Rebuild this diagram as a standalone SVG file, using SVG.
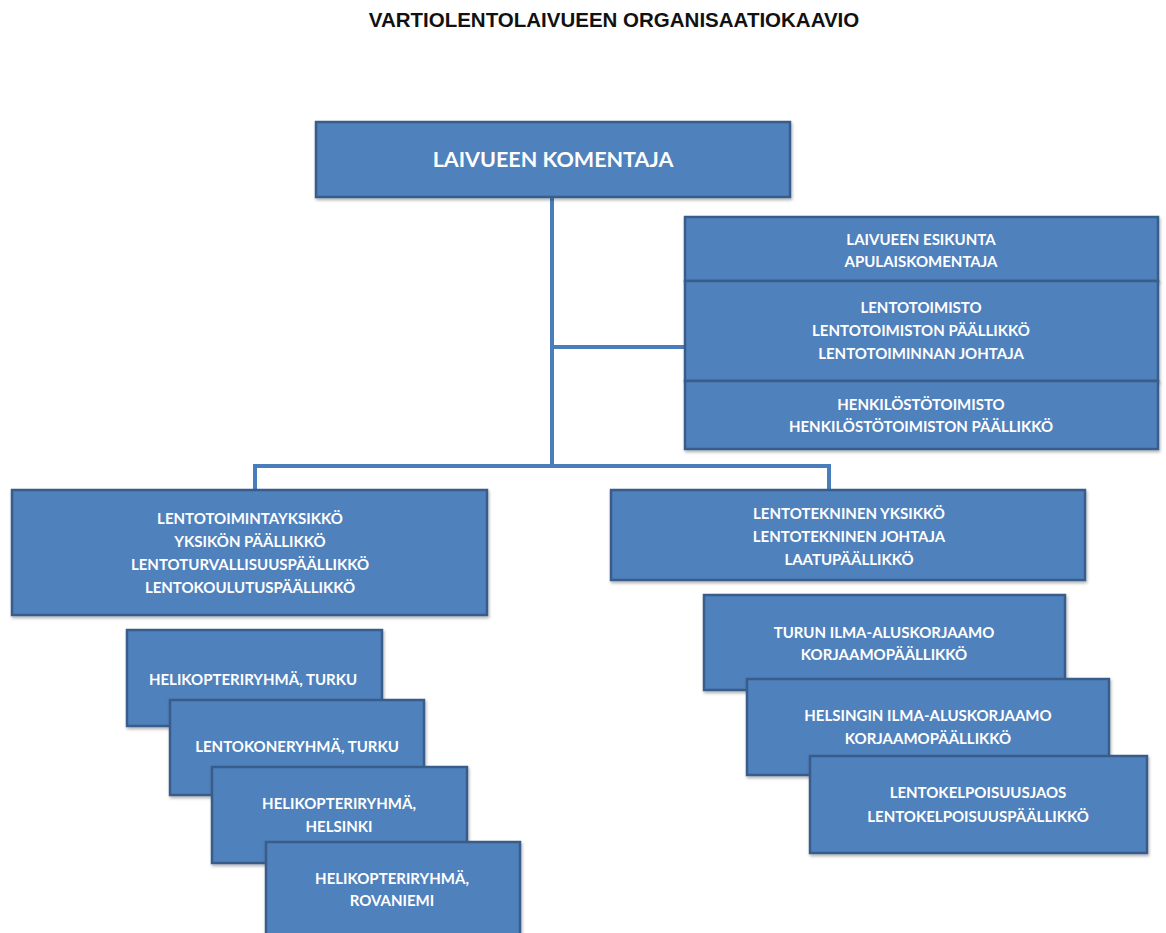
<svg xmlns="http://www.w3.org/2000/svg" width="1166" height="933" viewBox="0 0 1166 933">
  <style>
    .box { fill: #4F81BD; stroke: #385D8A; stroke-width: 2.5; filter: url(#shadow); }
    .lbl { fill: #FFFFFF; font-family: Lato, "Open Sans", "Liberation Sans", sans-serif; font-weight: bold; font-size: 15px; text-anchor: middle; }
    .big { font-size: 21.5px; }
    .title { fill: #111111; font-family: "Liberation Sans", Arial, sans-serif; font-weight: bold; font-size: 20.5px; text-anchor: middle; }
    .wire { fill: none; stroke: #4A7EBB; stroke-width: 4; }
  </style>
  <defs>
    <filter id="shadow" x="-5%" y="-5%" width="110%" height="115%">
      <feDropShadow dx="1" dy="2" stdDeviation="1.5" flood-color="#000000" flood-opacity="0.3"/>
    </filter>
  </defs>
  <rect width="1166" height="933" fill="#FFFFFF"/>

  <text class="title" x="614" y="27">VARTIOLENTOLAIVUEEN ORGANISAATIOKAAVIO</text>

  <!-- connectors -->
  <g id="connectors">
    <path class="wire" d="M552 197 V466"/>
    <path class="wire" d="M552 347 H686"/>
    <path class="wire" d="M255 491 V466 H829 V491"/>
  </g>

  <g id="komentaja">
    <rect class="box" x="316" y="122" width="474" height="75"/>
    <text class="lbl big" x="553" y="167">LAIVUEEN KOMENTAJA</text>
  </g>

  <g id="esikunta">
    <rect class="box" x="685" y="217" width="473" height="64"/>
    <text class="lbl" x="921" y="245">LAIVUEEN ESIKUNTA</text>
    <text class="lbl" x="921" y="267">APULAISKOMENTAJA</text>
  </g>
  <g id="lentotoimisto">
    <rect class="box" x="685" y="281" width="473" height="100"/>
    <text class="lbl" x="921" y="313">LENTOTOIMISTO</text>
    <text class="lbl" x="921" y="336">LENTOTOIMISTON PÄÄLLIKKÖ</text>
    <text class="lbl" x="921" y="359">LENTOTOIMINNAN JOHTAJA</text>
  </g>
  <g id="henkilostotoimisto">
    <rect class="box" x="685" y="381" width="473" height="68"/>
    <text class="lbl" x="921" y="410">HENKILÖSTÖTOIMISTO</text>
    <text class="lbl" x="921" y="432">HENKILÖSTÖTOIMISTON PÄÄLLIKKÖ</text>
  </g>

  <g id="lentotoimintayksikko">
    <rect class="box" x="12" y="490" width="475" height="125"/>
    <text class="lbl" x="250" y="524">LENTOTOIMINTAYKSIKKÖ</text>
    <text class="lbl" x="250" y="547">YKSIKÖN PÄÄLLIKKÖ</text>
    <text class="lbl" x="250" y="570">LENTOTURVALLISUUSPÄÄLLIKKÖ</text>
    <text class="lbl" x="250" y="593">LENTOKOULUTUSPÄÄLLIKKÖ</text>
  </g>

  <g id="lentotekninen-yksikko">
    <rect class="box" x="611" y="490" width="474" height="90"/>
    <text class="lbl" x="849" y="519">LENTOTEKNINEN YKSIKKÖ</text>
    <text class="lbl" x="849" y="542">LENTOTEKNINEN JOHTAJA</text>
    <text class="lbl" x="849" y="565">LAATUPÄÄLLIKKÖ</text>
  </g>

  <g id="helikopteriryhma-turku">
    <rect class="box" x="127" y="630" width="255" height="96"/>
    <text class="lbl" x="253" y="685">HELIKOPTERIRYHMÄ, TURKU</text>
  </g>
  <g id="lentokoneryhma-turku">
    <rect class="box" x="170" y="700" width="254" height="95"/>
    <text class="lbl" x="297" y="752">LENTOKONERYHMÄ, TURKU</text>
  </g>
  <g id="helikopteriryhma-helsinki">
    <rect class="box" x="212" y="767" width="255" height="96"/>
    <text class="lbl" x="339" y="809">HELIKOPTERIRYHMÄ,</text>
    <text class="lbl" x="339" y="832">HELSINKI</text>
  </g>
  <g id="helikopteriryhma-rovaniemi">
    <rect class="box" x="266" y="842" width="254" height="100"/>
    <text class="lbl" x="392" y="884">HELIKOPTERIRYHMÄ,</text>
    <text class="lbl" x="392" y="906">ROVANIEMI</text>
  </g>

  <g id="turun-korjaamo">
    <rect class="box" x="704" y="595" width="361" height="95"/>
    <text class="lbl" x="884" y="638">TURUN ILMA-ALUSKORJAAMO</text>
    <text class="lbl" x="884" y="660">KORJAAMOPÄÄLLIKKÖ</text>
  </g>
  <g id="helsingin-korjaamo">
    <rect class="box" x="747" y="679" width="362" height="96"/>
    <text class="lbl" x="928" y="721">HELSINGIN ILMA-ALUSKORJAAMO</text>
    <text class="lbl" x="928" y="744">KORJAAMOPÄÄLLIKKÖ</text>
  </g>
  <g id="lentokelpoisuusjaos">
    <rect class="box" x="810" y="756" width="337" height="97"/>
    <text class="lbl" x="978" y="798">LENTOKELPOISUUSJAOS</text>
    <text class="lbl" x="978" y="822">LENTOKELPOISUUSPÄÄLLIKKÖ</text>
  </g>
</svg>
